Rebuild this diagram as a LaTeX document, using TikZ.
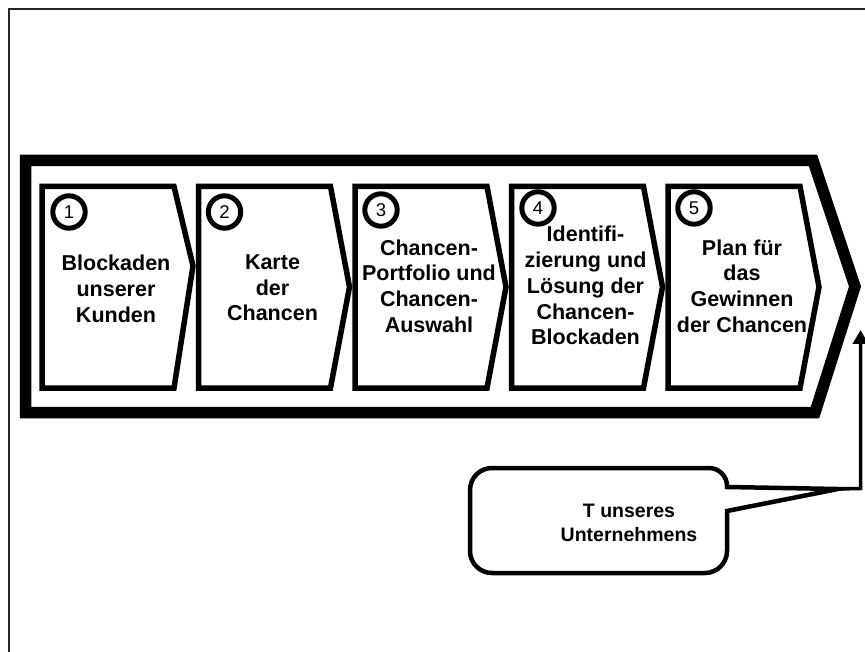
\documentclass[tikz,border=0pt]{standalone}
\usepackage{fontspec}
\setmainfont{Liberation Sans}
\usetikzlibrary{arrows.meta}
\begin{document}
\begin{tikzpicture}[x=1pt,y=-1pt,
  frame/.style={line width=2pt, draw=black!85},
  bigarrow/.style={line width=11.5pt, line join=miter, draw=black, fill=white},
  chevfill/.style={fill=white},
  chevline/.style={line width=5.5pt, line join=miter, draw=black},
  steptext/.style={font=\bfseries\fontsize{21.5}{25.7}\selectfont, align=center, anchor=north, inner sep=0pt},
  ring/.style={draw=black, line width=5pt, fill=white},
  numtext/.style={inner sep=0pt, font=\fontsize{18.5}{20}\selectfont},
  callout/.style={line width=4.5pt, draw=black, fill=white, line join=miter},
  calltext/.style={font=\bfseries\fontsize{19.5}{24}\selectfont, align=center, anchor=north, inner sep=0pt},
  link/.style={line width=3.5pt, -{Triangle[width=15pt,length=14pt]}}
]
\useasboundingbox (0,0) rectangle (865,652);

% page frame (only top and left edges fall inside the page)
\draw[frame] (9,670) -- (9,8.7) -- (880,8.7);

% large process arrow
\draw[bigarrow] (25.5,160.5) -- (813,160.5) -- (855,286.5) -- (815,412.5) -- (25.5,412.5) -- cycle;

% step chevrons: fills first, outlines on top
\foreach \l/\t in {42/266, 198.5/287, 355/287, 511.5/287, 668/287} {
  \fill[chevfill] (\l,186.5) -- (\l+132,186.5) -- (\l+151,\t) -- (\l+132,388) -- (\l,388) -- cycle;
}
\foreach \l/\t in {42/266, 198.5/287, 355/287, 511.5/287, 668/287} {
  \draw[chevline] (\l,186.5) -- (\l+132,186.5) -- (\l+151,\t) -- (\l+132,388) -- (\l,388) -- cycle;
}

% step labels
\node[steptext] (t1) at (116,255.2) {Blockaden\\unserer\\Kunden};
\node[steptext] (t2) at (272.5,254.5) {Karte\\der\\Chancen};
\node[steptext] (t3) at (429,239.5) {Chancen-\\Portfolio und\\Chancen-\\Auswahl};
\node[steptext] (t4) at (585.5,226.2) {Identifi-\\zierung und\\Lösung der\\Chancen-\\Blockaden};
\node[steptext] (t5) at (742,239.5) {Plan für\\das\\Gewinnen\\der Chancen};

% step numbers in rings
\foreach \n/\cx/\cy in {1/69/212, 2/224.5/212, 3/381/210, 4/538/208, 5/694/208} {
  \draw[ring] (\cx,\cy) circle[radius=16.2];
  \node[numtext] (n\n) at (\cx,\cy) {\n};
}

% callout with its pointer
\draw[callout] (727,511) -- (727,551) arc[start angle=0,end angle=90,radius=22]
  -- (492,573) arc[start angle=90,end angle=180,radius=22]
  -- (470,490) arc[start angle=180,end angle=270,radius=22]
  -- (709,468) arc[start angle=270,end angle=360,radius=18]
  -- (727,487) -- (838,489) -- cycle;
\node[calltext] (ct) at (629,503.7) {T unseres\\Unternehmens};

% connector from the callout up to the arrow head
\coordinate (ctip) at (838,489);
\coordinate (bend) at (860.5,488.5);
\coordinate (aim) at (860.5,330);
\draw[link] (ctip) -- (bend) -- (aim);
\end{tikzpicture}
\end{document}
